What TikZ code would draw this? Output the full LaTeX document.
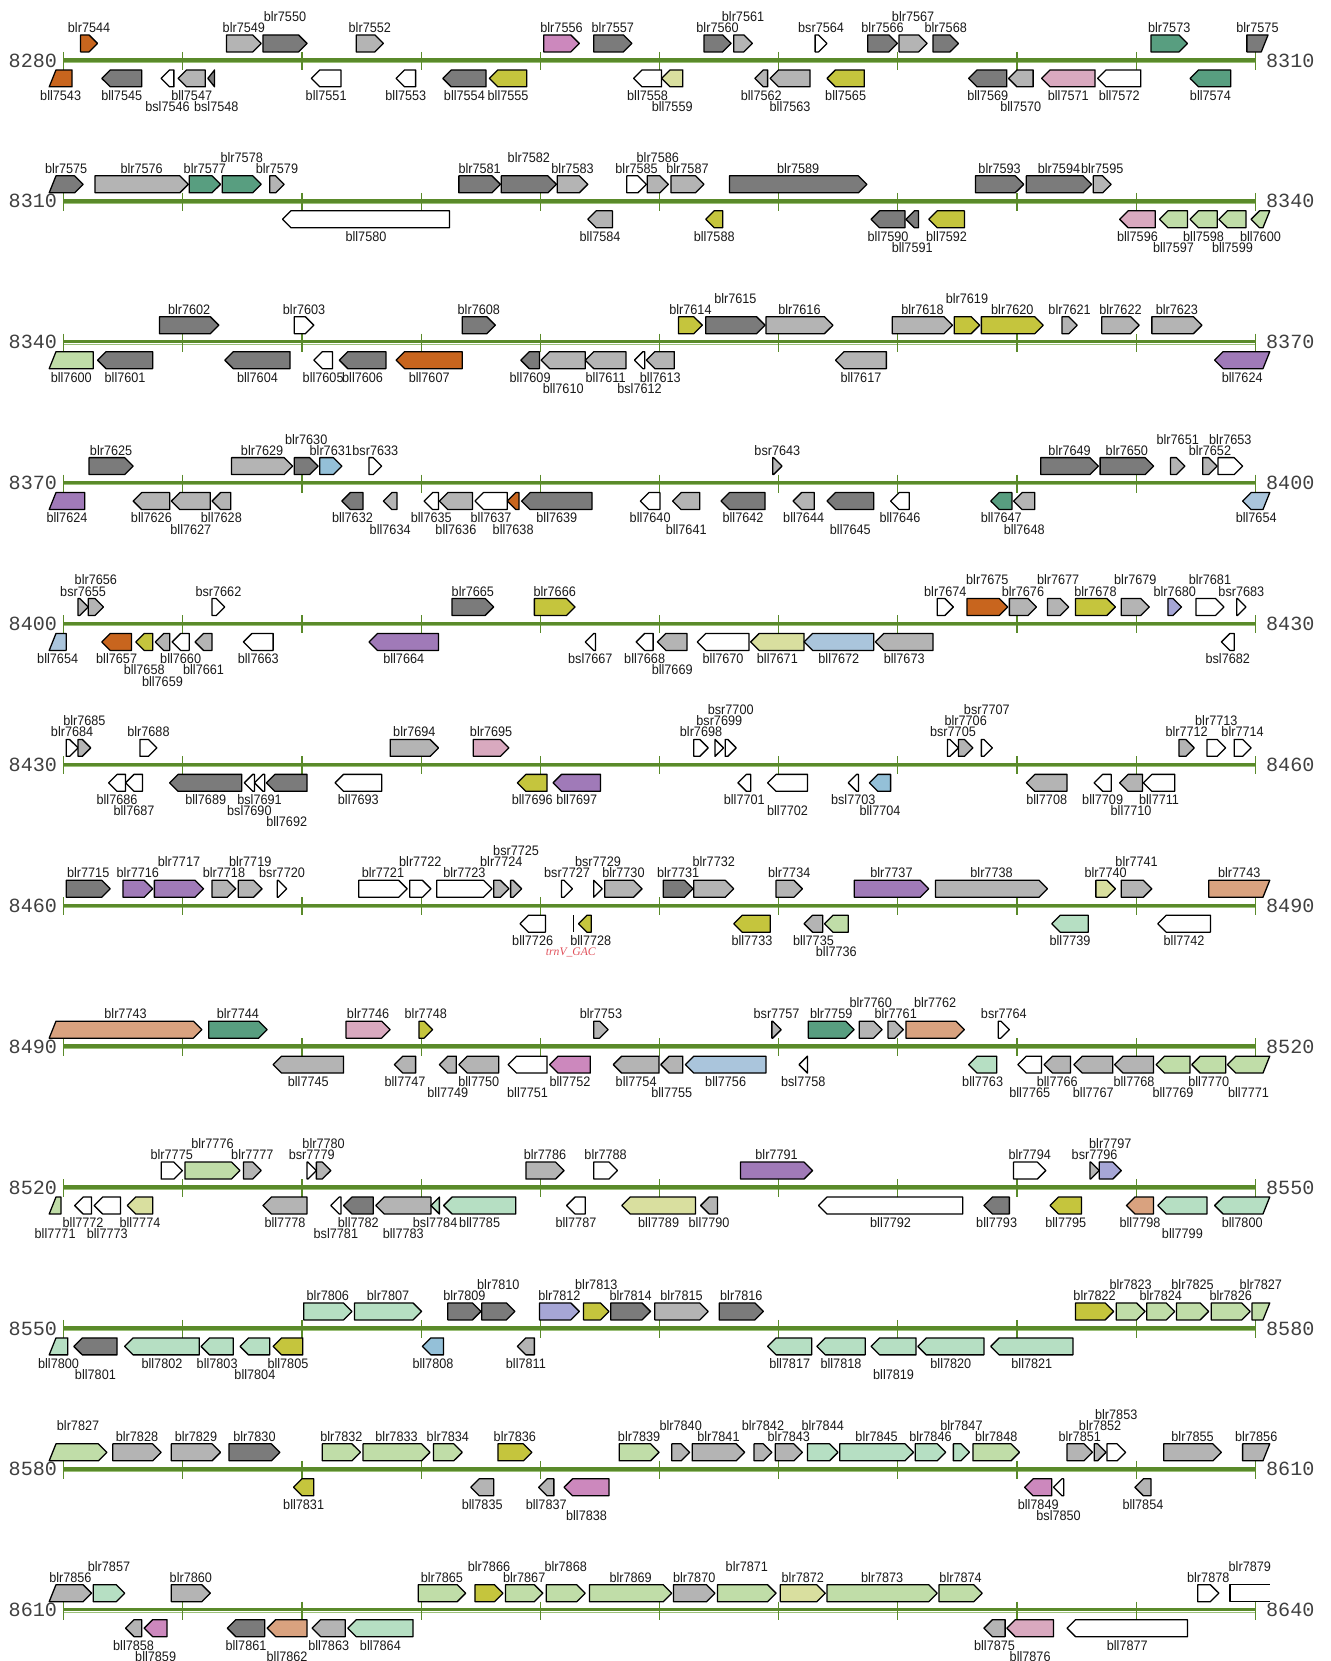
\documentclass[tikz,border=0pt]{standalone}
\usepackage{fontspec}
\setmainfont{Liberation Sans}[FakeStretch=0.92]
\newfontfamily\posfont{Liberation Mono}
\newfontfamily\trnfont{Liberation Serif}
\definecolor{cDG}{HTML}{7B7B7B}
\definecolor{cLG}{HTML}{B4B4B4}
\definecolor{cOR}{HTML}{C8651E}
\definecolor{cPK}{HTML}{D9A9BF}
\definecolor{cMG}{HTML}{CC88BD}
\definecolor{cOL}{HTML}{C5C53D}
\definecolor{cPY}{HTML}{D9DF9F}
\definecolor{cTL}{HTML}{589E80}
\definecolor{cGN}{HTML}{C0DDA8}
\definecolor{cMT}{HTML}{B6DFC3}
\definecolor{cPU}{HTML}{A07AB8}
\definecolor{cLB}{HTML}{AAC5DC}
\definecolor{cBL}{HTML}{94C0D8}
\definecolor{cLV}{HTML}{A6A6D6}
\definecolor{cSA}{HTML}{D9A27F}
\definecolor{axdark}{HTML}{5A8A2A}
\definecolor{axlight}{HTML}{9CC07A}
\definecolor{trnred}{HTML}{E0505A}
\tikzset{
 gene/.style={draw=black,line width=1.2pt,line join=round},
 lab/.style={font=\fontsize{13}{13}\selectfont,text=black!90,inner sep=0pt},
 poslab/.style={font=\posfont\fontsize{19}{19}\selectfont,text=black!75,inner sep=0pt},
 trnlab/.style={font=\trnfont\itshape\fontsize{11}{11}\selectfont,text=trnred,inner sep=0pt},
 axdk/.style={line width=3.2pt,color=axdark},
 axlt/.style={line width=1pt,color=axlight},
 tk/.style={line width=1.1pt,color=axdark}
}
\newcommand\GSun{\filldraw[gene,fill=\gcol] (\xa,-24) -- ({\xb-\hh},-24) -- (\xb,-16) -- ({\xb-\hh},-8) -- (\xa,-8) -- cycle;}
\newcommand\GSul{\filldraw[gene,fill=\gcol] ({\xa+8},-24) -- ({\xb-\hh},-24) -- (\xb,-16) -- ({\xb-\hh},-8) -- (\xa,-8) -- cycle;}
\newcommand\GSur{\filldraw[gene,fill=\gcol] (\xa,-24) -- (\xb,-24) -- ({\xb-8},-8) -- (\xa,-8) -- cycle;}
\newcommand\GSuo{\fill[\gcol] (\xa,-24) rectangle (\xb,-8); \draw[gene] (\xb,-24) -- (\xa,-24) -- (\xa,-8) -- (\xb,-8);}
\newcommand\GSdn{\filldraw[gene,fill=\gcol] (\xb,9) -- ({\xa+\hh},9) -- (\xa,17) -- ({\xa+\hh},25) -- (\xb,25) -- cycle;}
\newcommand\GSdl{\filldraw[gene,fill=\gcol] ({\xa+8},9) -- (\xb,9) -- (\xb,25) -- (\xa,25) -- cycle;}
\newcommand\GSdr{\filldraw[gene,fill=\gcol] ({\xa+\hh},9) -- (\xb,9) -- ({\xb-8},25) -- ({\xa+\hh},25) -- (\xa,17) -- cycle;}
\newcommand\G[8][0]{%
 \def\gcol{#5}%
 \pgfmathsetmacro\xa{#3}%
 \pgfmathsetmacro\xb{#4}%
 \pgfmathsetmacro\hh{min(10,#4-#3)}%
 \pgfmathsetmacro\xm{(#3+#4)/2+#1}%
 \csname GS#2#8\endcsname
 \if#2u\pgfmathsetmacro\yl{-31-10.5*(#7-1)}\else\pgfmathsetmacro\yl{33+10.5*(#7-1)}\fi
 \node[lab] (#6) at (\xm,\yl) {#6};%
}
\newcommand\Row[4]{%
\begin{scope}[shift={(0,#1)}]
 \node[poslab,anchor=east] (p#2) at (54,0) {#2};
 \node[poslab,anchor=west] (q#2) at (1195,0) {#3};
 \begin{scope}[xscale=0.8007]
  \draw[axlt] (75,1.8) -- (1480,1.8);
  \draw[axdk] (75,-0.4) -- (1480,-0.4);
  \foreach \k in {0,...,10}{\draw[tk] ({75+140.5*\k},-8) -- ({75+140.5*\k},9);}
  #4
 \end{scope}
\end{scope}}
\begin{document}
\begin{tikzpicture}[x=1pt,y=-1pt]
\useasboundingbox (0,0) rectangle (1256,1568);
% Row 1
\Row{57}{8280}{8310}{
\G{u}{95}{115}{cOR}{blr7544}{1}{n}
\G{u}{267}{308}{cLG}{blr7549}{1}{n}
\G{u}{310}{362}{cDG}{blr7550}{2}{n}
\G{u}{420}{452}{cLG}{blr7552}{1}{n}
\G{u}{641}{683}{cMG}{blr7556}{1}{n}
\G{u}{700}{745}{cDG}{blr7557}{1}{n}
\G{u}{830}{862}{cDG}{blr7560}{1}{n}
\G{u}{865}{887}{cLG}{blr7561}{2}{n}
\G{u}{961}{975}{white}{bsr7564}{1}{n}
\G{u}{1023}{1058}{cDG}{blr7566}{1}{n}
\G{u}{1060}{1093}{cLG}{blr7567}{2}{n}
\G{u}{1100}{1130}{cDG}{blr7568}{1}{n}
\G{u}{1357}{1400}{cTL}{blr7573}{1}{n}
\G{u}{1470}{1495}{cDG}{blr7575}{1}{r}
\G{d}{58}{85}{cOR}{bll7543}{1}{l}
\G{d}{120}{167}{cDG}{bll7545}{1}{n}
\G{d}{190}{205}{white}{bsl7546}{2}{n}
\G{d}{210}{242}{cLG}{bll7547}{1}{n}
\G[6]{d}{245}{253}{cDG}{bsl7548}{2}{n}
\G{d}{367}{402}{white}{bll7551}{1}{n}
\G{d}{467}{490}{white}{bll7553}{1}{n}
\G{d}{522}{573}{cDG}{bll7554}{1}{n}
\G{d}{577}{621}{cOL}{bll7555}{1}{n}
\G{d}{747}{780}{white}{bll7558}{1}{n}
\G{d}{780}{805}{cPY}{bll7559}{2}{n}
\G{d}{890}{905}{cLG}{bll7562}{1}{n}
\G{d}{908}{955}{cLG}{bll7563}{2}{n}
\G{d}{975}{1019}{cOL}{bll7565}{1}{n}
\G{d}{1142}{1187}{cDG}{bll7569}{1}{n}
\G{d}{1189}{1218}{cLG}{bll7570}{2}{n}
\G{d}{1228}{1291}{cPK}{bll7571}{1}{n}
\G{d}{1294}{1345}{white}{bll7572}{1}{n}
\G{d}{1403}{1451}{cTL}{bll7574}{1}{n}
}
% Row 2
\Row{190}{8310}{8340}{
\G{u}{58}{98}{cDG}{blr7575}{1}{l}
\G{u}{112}{222}{cLG}{blr7576}{1}{n}
\G{u}{223}{260}{cTL}{blr7577}{1}{n}
\G{u}{262}{308}{cTL}{blr7578}{2}{n}
\G{u}{318}{335}{cLG}{blr7579}{1}{n}
\G{u}{541}{590}{cDG}{blr7581}{1}{n}
\G{u}{591}{656}{cDG}{blr7582}{2}{n}
\G{u}{657}{693}{cLG}{blr7583}{1}{n}
\G{u}{739}{762}{white}{blr7585}{1}{n}
\G{u}{763}{788}{cLG}{blr7586}{2}{n}
\G{u}{791}{830}{cLG}{blr7587}{1}{n}
\G{u}{860}{1022}{cDG}{blr7589}{1}{n}
\G{u}{1150}{1207}{cDG}{blr7593}{1}{n}
\G{u}{1210}{1287}{cDG}{blr7594}{1}{n}
\G{u}{1289}{1310}{cLG}{blr7595}{1}{n}
\G{d}{333}{530}{white}{bll7580}{1}{n}
\G{d}{693}{722}{cLG}{bll7584}{1}{n}
\G{d}{832}{852}{cOL}{bll7588}{1}{n}
\G{d}{1027}{1067}{cDG}{bll7590}{1}{n}
\G{d}{1068}{1083}{cDG}{bll7591}{2}{n}
\G{d}{1095}{1137}{cOL}{bll7592}{1}{n}
\G{d}{1320}{1362}{cPK}{bll7596}{1}{n}
\G{d}{1367}{1400}{cGN}{bll7597}{2}{n}
\G{d}{1403}{1435}{cGN}{bll7598}{1}{n}
\G{d}{1437}{1469}{cGN}{bll7599}{2}{n}
\G{d}{1475}{1497}{cGN}{bll7600}{1}{r}
}
% Row 3
\Row{323}{8340}{8370}{
\G{u}{188}{258}{cDG}{blr7602}{1}{n}
\G{u}{347}{370}{white}{blr7603}{1}{n}
\G{u}{545}{584}{cDG}{blr7608}{1}{n}
\G{u}{800}{828}{cOL}{blr7614}{1}{n}
\G{u}{832}{902}{cDG}{blr7615}{2}{n}
\G{u}{903}{982}{cLG}{blr7616}{1}{n}
\G{u}{1052}{1123}{cLG}{blr7618}{1}{n}
\G{u}{1125}{1155}{cOL}{blr7619}{2}{n}
\G{u}{1157}{1230}{cOL}{blr7620}{1}{n}
\G{u}{1252}{1270}{cLG}{blr7621}{1}{n}
\G{u}{1299}{1343}{cLG}{blr7622}{1}{n}
\G{u}{1358}{1417}{cLG}{blr7623}{1}{n}
\G{d}{58}{110}{cGN}{bll7600}{1}{l}
\G{d}{115}{180}{cDG}{bll7601}{1}{n}
\G{d}{265}{342}{cDG}{bll7604}{1}{n}
\G{d}{370}{392}{white}{bll7605}{1}{n}
\G{d}{400}{455}{cDG}{bll7606}{1}{n}
\G{d}{467}{545}{cOR}{bll7607}{1}{n}
\G{d}{614}{636}{cDG}{bll7609}{1}{n}
\G{d}{638}{690}{cLG}{bll7610}{2}{n}
\G{d}{690}{738}{cLG}{bll7611}{1}{n}
\G{d}{748}{760}{white}{bsl7612}{2}{n}
\G{d}{762}{795}{cLG}{bll7613}{1}{n}
\G{d}{985}{1045}{cLG}{bll7617}{1}{n}
\G{d}{1432}{1497}{cPU}{bll7624}{1}{r}
}
% Row 4
\Row{456}{8370}{8400}{
\G{u}{105}{157}{cDG}{blr7625}{1}{n}
\G{u}{273}{345}{cLG}{blr7629}{1}{n}
\G{u}{347}{375}{cDG}{blr7630}{2}{n}
\G{u}{377}{403}{cBL}{blr7631}{1}{n}
\G{u}{435}{450}{white}{bsr7633}{1}{n}
\G{u}{911}{922}{cLG}{bsr7643}{1}{n}
\G{u}{1227}{1295}{cDG}{blr7649}{1}{n}
\G{u}{1297}{1360}{cDG}{blr7650}{1}{n}
\G{u}{1380}{1397}{cLG}{blr7651}{2}{n}
\G{u}{1418}{1435}{cLG}{blr7652}{1}{n}
\G{u}{1436}{1465}{white}{blr7653}{2}{n}
\G{d}{58}{100}{cPU}{bll7624}{1}{l}
\G{d}{157}{200}{cLG}{bll7626}{1}{n}
\G{d}{202}{248}{cLG}{bll7627}{2}{n}
\G{d}{250}{272}{cLG}{bll7628}{1}{n}
\G{d}{403}{428}{cDG}{bll7632}{1}{n}
\G{d}{452}{468}{cLG}{bll7634}{2}{n}
\G{d}{500}{517}{white}{bll7635}{1}{n}
\G{d}{518}{557}{cLG}{bll7636}{2}{n}
\G{d}{560}{598}{white}{bll7637}{1}{n}
\G{d}{598}{612}{cOR}{bll7638}{2}{n}
\G{d}{615}{698}{cDG}{bll7639}{1}{n}
\G{d}{755}{778}{white}{bll7640}{1}{n}
\G{d}{793}{825}{cLG}{bll7641}{2}{n}
\G{d}{850}{902}{cDG}{bll7642}{1}{n}
\G{d}{935}{960}{cLG}{bll7644}{1}{n}
\G{d}{975}{1030}{cDG}{bll7645}{2}{n}
\G{d}{1050}{1072}{white}{bll7646}{1}{n}
\G{d}{1168}{1193}{cTL}{bll7647}{1}{n}
\G{d}{1195}{1220}{cLG}{bll7648}{2}{n}
\G{d}{1465}{1497}{cLB}{bll7654}{1}{r}
}
% Row 5
\Row{589}{8400}{8430}{
\G{u}{92}{104}{cLG}{bsr7655}{1}{n}
\G{u}{104}{122}{cLG}{blr7656}{2}{n}
\G{u}{250}{265}{white}{bsr7662}{1}{n}
\G{u}{533}{582}{cDG}{blr7665}{1}{n}
\G{u}{630}{678}{cOL}{blr7666}{1}{n}
\G{u}{1105}{1124}{white}{blr7674}{1}{n}
\G{u}{1140}{1188}{cOR}{blr7675}{2}{n}
\G{u}{1190}{1222}{cLG}{blr7676}{1}{n}
\G{u}{1235}{1260}{cLG}{blr7677}{2}{n}
\G{u}{1268}{1315}{cOL}{blr7678}{1}{n}
\G{u}{1322}{1355}{cLG}{blr7679}{2}{n}
\G{u}{1377}{1393}{cLV}{blr7680}{1}{n}
\G{u}{1410}{1443}{white}{blr7681}{2}{n}
\G{u}{1458}{1469}{white}{bsr7683}{1}{n}
\G{d}{58}{78}{cLB}{bll7654}{1}{l}
\G{d}{120}{155}{cOR}{bll7657}{1}{n}
\G{d}{160}{180}{cOL}{bll7658}{2}{n}
\G{d}{183}{200}{cLG}{bll7659}{3}{n}
\G{d}{203}{223}{white}{bll7660}{1}{n}
\G{d}{230}{250}{cLG}{bll7661}{2}{n}
\G{d}{287}{322}{white}{bll7663}{1}{n}
\G{d}{435}{517}{cPU}{bll7664}{1}{n}
\G{d}{690}{702}{white}{bsl7667}{1}{n}
\G{d}{750}{770}{white}{bll7668}{1}{n}
\G{d}{775}{810}{cLG}{bll7669}{2}{n}
\G{d}{822}{883}{white}{bll7670}{1}{n}
\G{d}{885}{948}{cPY}{bll7671}{1}{n}
\G{d}{948}{1030}{cLB}{bll7672}{1}{n}
\G{d}{1032}{1100}{cLG}{bll7673}{1}{n}
\G{d}{1440}{1455}{white}{bsl7682}{1}{n}
}
% Row 6
\Row{722}{8430}{8460}{
\G{u}{78}{92}{white}{blr7684}{1}{n}
\G{u}{92}{107}{cLG}{blr7685}{2}{n}
\G{u}{165}{185}{white}{blr7688}{1}{n}
\G{u}{460}{517}{cLG}{blr7694}{1}{n}
\G{u}{558}{600}{cPK}{blr7695}{1}{n}
\G{u}{818}{835}{white}{blr7698}{1}{n}
\G{u}{843}{853}{white}{bsr7699}{2}{n}
\G{u}{855}{868}{white}{bsr7700}{3}{n}
\G{u}{1117}{1130}{white}{bsr7705}{1}{n}
\G{u}{1130}{1147}{cLG}{blr7706}{2}{n}
\G{u}{1157}{1170}{white}{bsr7707}{3}{n}
\G{u}{1390}{1408}{cLG}{blr7712}{1}{n}
\G{u}{1423}{1445}{white}{blr7713}{2}{n}
\G{u}{1455}{1475}{white}{blr7714}{1}{n}
\G{d}{128}{148}{white}{bll7686}{1}{n}
\G{d}{148}{168}{white}{bll7687}{2}{n}
\G{d}{200}{285}{cDG}{bll7689}{1}{n}
\G{d}{288}{300}{white}{bsl7690}{2}{n}
\G{d}{300}{312}{white}{bsl7691}{1}{n}
\G{d}{314}{362}{cDG}{bll7692}{3}{n}
\G{d}{395}{450}{white}{bll7693}{1}{n}
\G{d}{610}{645}{cOL}{bll7696}{1}{n}
\G{d}{652}{708}{cPU}{bll7697}{1}{n}
\G{d}{870}{885}{white}{bll7701}{1}{n}
\G{d}{905}{952}{white}{bll7702}{2}{n}
\G{d}{1000}{1012}{white}{bsl7703}{1}{n}
\G{d}{1025}{1050}{cBL}{bll7704}{2}{n}
\G{d}{1210}{1258}{cLG}{bll7708}{1}{n}
\G{d}{1290}{1310}{white}{bll7709}{1}{n}
\G{d}{1320}{1347}{cLG}{bll7710}{2}{n}
\G{d}{1348}{1385}{white}{bll7711}{1}{n}
}
% Row 7
\Row{855}{8460}{8490}{
\G{u}{78}{130}{cDG}{blr7715}{1}{n}
\G{u}{145}{180}{cPU}{blr7716}{1}{n}
\G{u}{182}{240}{cPU}{blr7717}{2}{n}
\G{u}{250}{278}{cLG}{blr7718}{1}{n}
\G{u}{281}{309}{cLG}{blr7719}{2}{n}
\G{u}{327}{338}{white}{bsr7720}{1}{n}
\G{u}{423}{480}{white}{blr7721}{1}{n}
\G{u}{483}{508}{white}{blr7722}{2}{n}
\G{u}{515}{580}{white}{blr7723}{1}{n}
\G{u}{582}{600}{cLG}{blr7724}{2}{n}
\G{u}{602}{615}{cLG}{bsr7725}{3}{n}
\G{u}{662}{675}{white}{bsr7727}{1}{n}
\G{u}{700}{710}{white}{bsr7729}{2}{n}
\G{u}{713}{757}{cLG}{blr7730}{1}{n}
\G{u}{782}{817}{cDG}{blr7731}{1}{n}
\G{u}{818}{865}{cLG}{blr7732}{2}{n}
\G{u}{915}{946}{cLG}{blr7734}{1}{n}
\G{u}{1007}{1095}{cPU}{blr7737}{1}{n}
\G{u}{1103}{1235}{cLG}{blr7738}{1}{n}
\G{u}{1292}{1315}{cPY}{blr7740}{1}{n}
\G{u}{1322}{1358}{cLG}{blr7741}{2}{n}
\G{u}{1425}{1497}{cSA}{blr7743}{1}{r}
\G{d}{613}{643}{white}{bll7726}{1}{n}
\draw[line width=1.6pt] (676,9) -- (676,25);
\G[7]{d}{682}{697}{cOL}{bll7728}{1}{n}
\node[trnlab] (trnV) at (673,44) {trnV\_GAC};
\G{d}{865}{908}{cOL}{bll7733}{1}{n}
\G{d}{948}{970}{cLG}{bll7735}{1}{n}
\G{d}{972}{1000}{cGN}{bll7736}{2}{n}
\G{d}{1240}{1283}{cMT}{bll7739}{1}{n}
\G{d}{1365}{1427}{white}{bll7742}{1}{n}
}
% Row 8
\Row{988}{8490}{8520}{
\G{u}{58}{238}{cSA}{blr7743}{1}{l}
\G{u}{246}{315}{cTL}{blr7744}{1}{n}
\G{u}{408}{460}{cPK}{blr7746}{1}{n}
\G{u}{494}{510}{cOL}{blr7748}{1}{n}
\G{u}{700}{717}{cLG}{blr7753}{1}{n}
\G{u}{910}{921}{cLG}{bsr7757}{1}{n}
\G{u}{953}{1007}{cTL}{blr7759}{1}{n}
\G{u}{1013}{1040}{cLG}{blr7760}{2}{n}
\G{u}{1047}{1065}{cLG}{blr7761}{1}{n}
\G{u}{1068}{1137}{cSA}{blr7762}{2}{n}
\G{u}{1177}{1190}{white}{bsr7764}{1}{n}
\G{d}{322}{405}{cLG}{bll7745}{1}{n}
\G{d}{465}{490}{cLG}{bll7747}{1}{n}
\G{d}{518}{538}{cLG}{bll7749}{2}{n}
\G{d}{541}{588}{cLG}{bll7750}{1}{n}
\G{d}{599}{645}{white}{bll7751}{2}{n}
\G{d}{648}{696}{cMG}{bll7752}{1}{n}
\G{d}{723}{777}{cLG}{bll7754}{1}{n}
\G{d}{779}{805}{cLG}{bll7755}{2}{n}
\G{d}{808}{903}{cLB}{bll7756}{1}{n}
\G{d}{942}{952}{white}{bsl7758}{1}{n}
\G{d}{1142}{1175}{cMT}{bll7763}{1}{n}
\G{d}{1200}{1228}{white}{bll7765}{2}{n}
\G{d}{1231}{1262}{cLG}{bll7766}{1}{n}
\G{d}{1266}{1312}{cLG}{bll7767}{2}{n}
\G{d}{1314}{1360}{cLG}{bll7768}{1}{n}
\G{d}{1363}{1403}{cGN}{bll7769}{2}{n}
\G{d}{1405}{1445}{cGN}{bll7770}{1}{n}
\G{d}{1447}{1497}{cGN}{bll7771}{2}{r}
}
% Row 9
\Row{1121}{8520}{8550}{
\G{u}{190}{215}{white}{blr7775}{1}{n}
\G{u}{218}{283}{cGN}{blr7776}{2}{n}
\G{u}{287}{308}{cLG}{blr7777}{1}{n}
\G{u}{362}{373}{white}{bsr7779}{1}{n}
\G{u}{373}{390}{cLG}{blr7780}{2}{n}
\G{u}{620}{665}{cLG}{blr7786}{1}{n}
\G{u}{700}{728}{white}{blr7788}{1}{n}
\G{u}{873}{958}{cPU}{blr7791}{1}{n}
\G{u}{1195}{1233}{white}{blr7794}{1}{n}
\G{u}{1285}{1296}{cLG}{bsr7796}{1}{n}
\G{u}{1296}{1322}{cLV}{blr7797}{2}{n}
\G{d}{58}{72}{cGN}{bll7771}{2}{l}
\G{d}{88}{108}{white}{bll7772}{1}{n}
\G{d}{111}{142}{white}{bll7773}{2}{n}
\G{d}{150}{180}{cPY}{bll7774}{1}{n}
\G{d}{310}{362}{cLG}{bll7778}{1}{n}
\G{d}{390}{402}{white}{bsl7781}{2}{n}
\G{d}{405}{440}{cDG}{bll7782}{1}{n}
\G{d}{443}{508}{cLG}{bll7783}{2}{n}
\G{d}{508}{518}{cMT}{bsl7784}{1}{n}
\G{d}{523}{608}{cMT}{bll7785}{1}{n}
\G{d}{668}{690}{white}{bll7787}{1}{n}
\G{d}{733}{820}{cPY}{bll7789}{1}{n}
\G{d}{826}{846}{cLG}{bll7790}{1}{n}
\G{d}{965}{1135}{white}{bll7792}{1}{n}
\G{d}{1160}{1190}{cDG}{bll7793}{1}{n}
\G{d}{1238}{1275}{cOL}{bll7795}{1}{n}
\G{d}{1328}{1360}{cSA}{bll7798}{1}{n}
\G{d}{1365}{1423}{cMT}{bll7799}{2}{n}
\G{d}{1432}{1497}{cMT}{bll7800}{1}{r}
}
% Row 10
\Row{1254}{8550}{8580}{
\G{u}{358}{415}{cMT}{blr7806}{1}{n}
\G{u}{418}{497}{cMT}{blr7807}{1}{n}
\G{u}{528}{567}{cDG}{blr7809}{1}{n}
\G{u}{568}{607}{cDG}{blr7810}{2}{n}
\G{u}{636}{683}{cLV}{blr7812}{1}{n}
\G{u}{688}{718}{cOL}{blr7813}{2}{n}
\G{u}{720}{767}{cDG}{blr7814}{1}{n}
\G{u}{772}{835}{cLG}{blr7815}{1}{n}
\G{u}{848}{900}{cDG}{blr7816}{1}{n}
\G{u}{1268}{1313}{cOL}{blr7822}{1}{n}
\G{u}{1316}{1350}{cGN}{blr7823}{2}{n}
\G{u}{1352}{1385}{cGN}{blr7824}{1}{n}
\G{u}{1387}{1425}{cGN}{blr7825}{2}{n}
\G{u}{1428}{1474}{cGN}{blr7826}{1}{n}
\G{u}{1476}{1497}{cGN}{blr7827}{2}{r}
\G{d}{58}{80}{cMT}{bll7800}{1}{l}
\G{d}{87}{138}{cDG}{bll7801}{2}{n}
\G{d}{147}{235}{cMT}{bll7802}{1}{n}
\G{d}{237}{275}{cMT}{bll7803}{1}{n}
\G{d}{283}{318}{cMT}{bll7804}{2}{n}
\G{d}{322}{357}{cOL}{bll7805}{1}{n}
\G{d}{498}{523}{cBL}{bll7808}{1}{n}
\G{d}{610}{630}{cLG}{bll7811}{1}{n}
\G{d}{905}{957}{cMT}{bll7817}{1}{n}
\G{d}{963}{1020}{cMT}{bll7818}{1}{n}
\G{d}{1027}{1080}{cMT}{bll7819}{2}{n}
\G{d}{1082}{1160}{cMT}{bll7820}{1}{n}
\G{d}{1168}{1265}{cMT}{bll7821}{1}{n}
}
% Row 11
\Row{1387}{8580}{8610}{
\G{u}{58}{126}{cGN}{blr7827}{2}{l}
\G{u}{133}{190}{cLG}{blr7828}{1}{n}
\G{u}{202}{260}{cLG}{blr7829}{1}{n}
\G{u}{270}{330}{cDG}{blr7830}{1}{n}
\G{u}{380}{425}{cGN}{blr7832}{1}{n}
\G{u}{428}{507}{cGN}{blr7833}{1}{n}
\G{u}{511}{545}{cGN}{blr7834}{1}{n}
\G{u}{587}{627}{cOL}{blr7836}{1}{n}
\G{u}{730}{777}{cGN}{blr7839}{1}{n}
\G{u}{792}{813}{cLG}{blr7840}{2}{n}
\G{u}{816}{878}{cLG}{blr7841}{1}{n}
\G{u}{889}{910}{cLG}{blr7842}{2}{n}
\G{u}{914}{946}{cLG}{blr7843}{1}{n}
\G{u}{952}{988}{cMT}{blr7844}{2}{n}
\G{u}{990}{1077}{cMT}{blr7845}{1}{n}
\G{u}{1079}{1115}{cMT}{blr7846}{1}{n}
\G{u}{1124}{1143}{cMT}{blr7847}{2}{n}
\G{u}{1147}{1202}{cGN}{blr7848}{1}{n}
\G{u}{1258}{1288}{cLG}{blr7851}{1}{n}
\G{u}{1290}{1304}{cLG}{blr7852}{2}{n}
\G{u}{1305}{1327}{white}{blr7853}{3}{n}
\G{u}{1372}{1440}{cLG}{blr7855}{1}{n}
\G{u}{1465}{1497}{cLG}{blr7856}{1}{r}
\G{d}{346}{370}{cOL}{bll7831}{1}{n}
\G{d}{555}{582}{cLG}{bll7835}{1}{n}
\G{d}{635}{653}{cLG}{bll7837}{1}{n}
\G{d}{665}{718}{cMG}{bll7838}{2}{n}
\G{d}{1208}{1240}{cMG}{bll7849}{1}{n}
\G{d}{1242}{1254}{white}{bsl7850}{2}{n}
\G{d}{1338}{1357}{cLG}{bll7854}{1}{n}
}
% Row 12
\Row{1520}{8610}{8640}{
\G{u}{58}{108}{cLG}{blr7856}{1}{l}
\G{u}{110}{147}{cMT}{blr7857}{2}{n}
\G{u}{202}{248}{cLG}{blr7860}{1}{n}
\G{u}{493}{549}{cGN}{blr7865}{1}{n}
\G{u}{560}{593}{cOL}{blr7866}{2}{n}
\G{u}{596}{640}{cGN}{blr7867}{1}{n}
\G{u}{644}{690}{cGN}{blr7868}{2}{n}
\G{u}{695}{792}{cGN}{blr7869}{1}{n}
\G{u}{794}{843}{cLG}{blr7870}{1}{n}
\G{u}{846}{915}{cGN}{blr7871}{2}{n}
\G{u}{920}{973}{cPY}{blr7872}{1}{n}
\G{u}{975}{1105}{cGN}{blr7873}{1}{n}
\G{u}{1107}{1158}{cGN}{blr7874}{1}{n}
\G{u}{1412}{1437}{white}{blr7878}{1}{n}
\G{u}{1450}{1497}{white}{blr7879}{2}{o}
\G{d}{148}{167}{cLG}{bll7858}{1}{n}
\G{d}{170}{197}{cMG}{bll7859}{2}{n}
\G{d}{268}{312}{cDG}{bll7861}{1}{n}
\G{d}{315}{362}{cSA}{bll7862}{2}{n}
\G{d}{368}{407}{cLG}{bll7863}{1}{n}
\G{d}{410}{487}{cMT}{bll7864}{1}{n}
\G{d}{1160}{1185}{cLG}{bll7875}{1}{n}
\G{d}{1187}{1242}{cPK}{bll7876}{2}{n}
\G{d}{1258}{1400}{white}{bll7877}{1}{n}
}
\end{tikzpicture}
\end{document}
